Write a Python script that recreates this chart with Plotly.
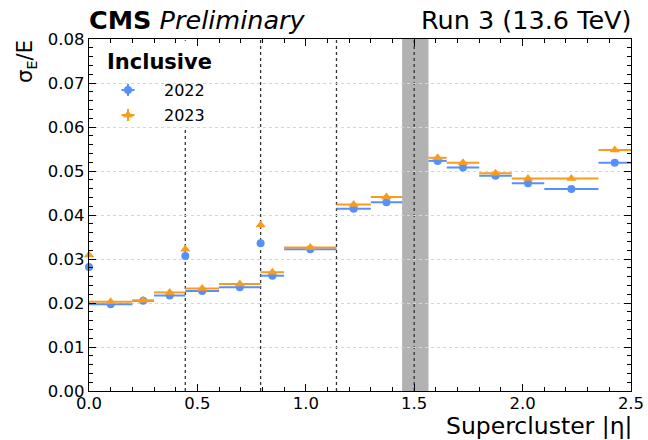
import plotly.graph_objects as go

# Supercluster |eta| bins (barrel up to 1.4442, endcap from 1.566)
bin_low = [0.0, 0.2, 0.3, 0.4442, 0.6, 0.7915, 0.9, 1.1415, 1.3,
           1.566, 1.65, 1.8, 1.95, 2.1, 2.35]
bin_high = [0.2, 0.3, 0.4442, 0.6, 0.7915, 0.9, 1.1415, 1.3, 1.4442,
            1.65, 1.8, 1.95, 2.1, 2.35, 2.5]

# Relative energy resolution sigma_E/E per bin
res_2022 = [0.0197, 0.0205, 0.0217, 0.0227, 0.0236, 0.0262, 0.0322, 0.0414,
            0.0429, 0.0523, 0.0508, 0.0489, 0.0472, 0.0459, 0.0519]
res_2023 = [0.0203, 0.0206, 0.0224, 0.0233, 0.0243, 0.0270, 0.0326, 0.0424,
            0.0441, 0.0530, 0.0519, 0.0495, 0.0483, 0.0483, 0.0548]

# Points evaluated at the ECAL module boundaries (cracks)
crack_eta = [0.0, 0.4442, 0.7915]
crack_2022 = [0.0282, 0.0307, 0.0336]
crack_2023 = [0.0309, 0.0322, 0.0377]
crack_err_2022 = [0.0004, 0.0004, 0.0005]
crack_err_2023 = [0.0004, 0.0005, 0.0006]

# Module boundaries and the barrel-endcap transition region
module_edges = [0.4442, 0.7915, 1.1415, 1.5]
gap_low, gap_high = 1.4442, 1.566

BLUE = "#5790fc"
ORANGE = "#f89c20"
FONT = "DejaVu Sans"

centers = [(a + b) / 2 for a, b in zip(bin_low, bin_high)]
half_w = [(b - a) / 2 for a, b in zip(bin_low, bin_high)]

fig = go.Figure()


def add_series(vals, cvals, cerr, color, symbol, size):
    fig.add_trace(go.Scatter(
        x=centers, y=vals, mode="markers", showlegend=False,
        marker=dict(color=color, symbol=symbol, size=size, line=dict(width=0)),
        error_x=dict(type="data", array=half_w, symmetric=True,
                     color=color, thickness=2, width=0),
    ))
    fig.add_trace(go.Scatter(
        x=crack_eta, y=cvals, mode="markers", showlegend=False, cliponaxis=False,
        marker=dict(color=color, symbol=symbol, size=size, line=dict(width=0)),
        error_y=dict(type="data", array=cerr, color=color, thickness=1.5, width=0),
    ))


add_series(res_2022, crack_2022, crack_err_2022, BLUE, "circle", 8)
add_series(res_2023, crack_2023, crack_err_2023, ORANGE, "triangle-up", 9)

shapes = []
# transition gap band
shapes.append(dict(type="rect", xref="x", yref="paper", x0=gap_low, x1=gap_high,
                   y0=0, y1=1, fillcolor="#b2b2b2", line=dict(width=0),
                   layer="between"))
for e in module_edges:
    shapes.append(dict(type="line", xref="x", yref="paper", x0=e, x1=e, y0=0, y1=1,
                       line=dict(color="#333333", width=1.3, dash="dot"),
                       layer="between"))
# legend background
shapes.append(dict(type="rect", xref="paper", yref="paper", x0=0.003, x1=0.243,
                   y0=0.742, y1=0.995, fillcolor="white", line=dict(width=0),
                   layer="between"))

# legend keys on an overlay axis spanning the plot area
key_y = [0.855, 0.784]
for (c, sym, sz), ky in zip([(BLUE, "circle", 8), (ORANGE, "triangle-up", 9)], key_y):
    fig.add_trace(go.Scatter(
        x=[0.072], y=[ky], xaxis="x2", yaxis="y2", mode="markers", showlegend=False,
        marker=dict(color=c, symbol=sym, size=sz, line=dict(width=0)),
        error_x=dict(type="constant", value=0.012, color=c, thickness=2, width=0),
        error_y=dict(type="constant", value=0.017, color=c, thickness=2, width=0),
    ))

annotations = [
    dict(text="<b>CMS</b> <i>Preliminary</i>", xref="paper", yref="paper",
         x=0, y=1.054, xanchor="left", yanchor="middle", showarrow=False, xshift=-2,
         font=dict(size=25.5, color="black", family=FONT)),
    dict(text="Run 3 (13.6 TeV)", xref="paper", yref="paper",
         x=1, y=1.054, xanchor="right", yanchor="middle", showarrow=False, xshift=3,
         font=dict(size=25.5, color="black", family=FONT)),
    dict(text="Supercluster |η|", xref="paper", yref="paper",
         x=1, y=-0.099, xanchor="right", yanchor="middle", showarrow=False, xshift=3,
         font=dict(size=23.5, color="black", family=FONT)),
    dict(text="σ<sub>E</sub>/E", xref="paper", yref="paper", textangle=-90,
         x=-0.116, y=0.935, xanchor="center", yanchor="middle", showarrow=False,
         font=dict(size=21, color="black", family=FONT)),
    dict(text="<b>Inclusive</b>", xref="paper", yref="paper",
         x=0.0295, y=0.935, xanchor="left", yanchor="middle", showarrow=False,
         font=dict(size=21, color="black", family=FONT)),
    dict(text="2022", xref="paper", yref="paper",
         x=0.1347, y=key_y[0], xanchor="left", yanchor="middle", showarrow=False,
         font=dict(size=16, color="black", family=FONT)),
    dict(text="2023", xref="paper", yref="paper",
         x=0.1347, y=key_y[1], xanchor="left", yanchor="middle", showarrow=False,
         font=dict(size=16, color="black", family=FONT)),
]

axis_common = dict(
    showline=True, linecolor="black", linewidth=1.2, mirror="allticks",
    ticks="inside", ticklen=7, tickwidth=1, tickcolor="black",
    zeroline=False, automargin=False,
    tickfont=dict(size=16.5, color="black", family=FONT),
)

fig.update_layout(
    width=648, height=440,
    margin=dict(l=89, r=17, t=39, b=49, autoexpand=False),
    paper_bgcolor="white", plot_bgcolor="white",
    font=dict(family=FONT, color="black"),
    showlegend=False,
    xaxis=dict(range=[0, 2.5], dtick=0.5, tick0=0, tickformat=".1f",
               showgrid=False, ticklabelstandoff=-3,
               minor=dict(ticks="inside", ticklen=4, dtick=0.1, tickcolor="black",
                          showgrid=False),
               **axis_common),
    yaxis=dict(range=[0, 0.08], dtick=0.01, tick0=0, tickformat=".2f",
               showgrid=True, gridcolor="#d6d6d6", griddash="dot", gridwidth=1,
               minor=dict(ticks="inside", ticklen=4, dtick=0.002, tickcolor="black",
                          showgrid=False),
               **axis_common),
    xaxis2=dict(overlaying="x", range=[0, 1], visible=False),
    yaxis2=dict(overlaying="y", range=[0, 1], visible=False),
    shapes=shapes,
    annotations=annotations,
)

fig.write_html("out.html")
